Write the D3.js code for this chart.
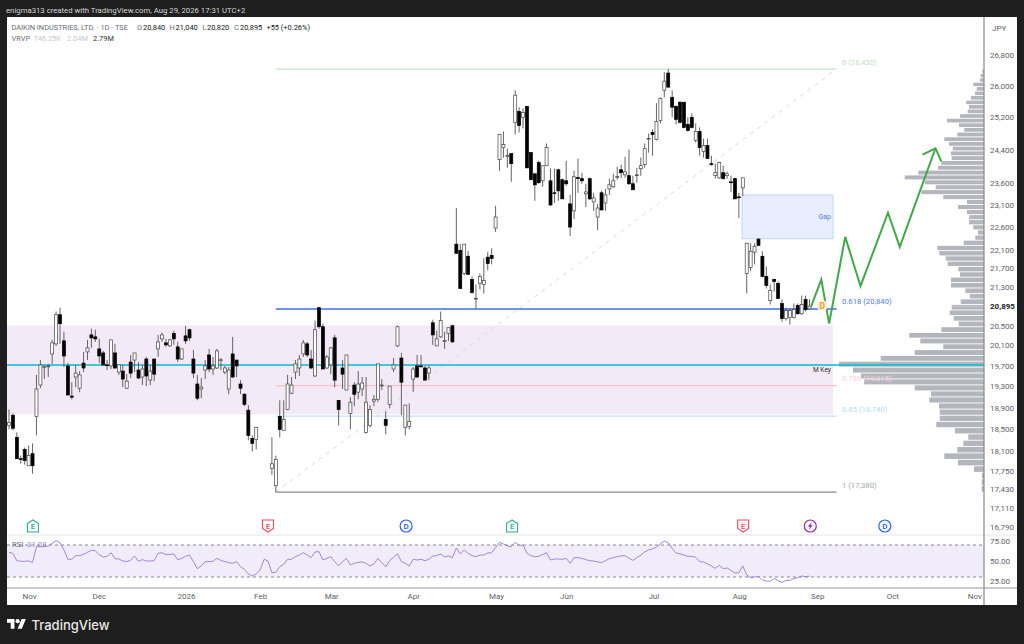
<!DOCTYPE html>
<html>
<head>
<meta charset="utf-8">
<script src="https://d3js.org/d3.v7.min.js"></script>
<style>
  html, body { margin: 0; padding: 0; background: #1e1e1e; }
  svg { display: block; font-family: Roboto, sans-serif; }
</style>
</head>
<body>
<div id="chart"></div>
<script>
// daily bars [open, high, low, close], null = no bar drawn
const ohlc = [
  [18570,18865,18495,18625],[18755,18790,18475,18515],[18350,18440,17965,17965],[17965,18020,17875,17950],
  [18130,18165,17860,17930],[17840,18200,17840,18020],[18055,18240,17700,17840],[18735,19520,18385,19250],
  [19325,19810,19265,19715],[19675,19715,19440,19680],[19690,19735,19480,19695],[19930,20210,19735,20150],
  [20130,20785,20090,20720],[20720,20865,20130,20535],[20190,20375,19675,19890],[19695,19750,19135,19135],
  [19115,19380,19055,19095],[19480,19715,19285,19555],[19265,19595,19190,19520],[19750,19970,19575,19655],
  [19970,20210,19810,20050],[20310,20435,20050,20250],[20270,20415,20170,20230],[20030,20230,19750,19890],
  [19950,19990,19695,19715],[19715,19810,19615,19710],[19695,20210,19635,20210],[19950,20130,19635,19655],
  [19575,19715,19520,19715],[19595,19715,19285,19440],[19265,19535,19250,19400],[19770,19910,19460,19555],
  [19810,19950,19575,19950],[19615,19770,19440,19460],[19480,19715,19325,19635],[19830,19870,19305,19500],
  [19420,19715,19325,19595],[19830,19830,19400,19535],[20030,20310,19870,20170],[20230,20355,20170,20310],
  [20150,20230,20070,20110],[20090,20230,20070,20210],[20335,20395,20110,20230],[20070,20170,19770,19830],
  [19830,20030,19810,20030],[20290,20495,20130,20190],[20415,20435,20190,20250],[19830,20010,19460,19555],
  [19345,19520,19035,19075],[19250,19460,19075,19285],[19615,19810,19440,19695],[19910,20030,19575,19635],
  [19635,19870,19520,19695],[19655,20030,19635,19990],[19810,19850,19615,19815],[19575,19695,19535,19655],
  [19250,19675,19150,19615],[19930,20270,19460,19480],[19810,19810,19480,19695],[19345,19420,19150,19265],
  [19150,19170,18925,18960],[18850,18945,18295,18385],[18330,18385,18095,18240],[18310,18530,18130,18530],
  null,null,null,
  [17790,18350,17680,17875],[17490,18020,17380,17950],[18735,19035,18350,18495],[18475,19035,18475,18680],
  [18865,19520,18850,19345],[19170,19480,19150,19325],[19575,19810,19440,19735],[19655,19910,19500,19830],
  [19930,20210,19870,20150],[20130,20170,19870,19910],[19830,20010,19635,19655],[19500,20600,19480,20415],
  [20865,20865,20435,20475],[20475,20535,19635,19635],[19655,19910,19635,19870],[19715,20070,19535,20050],
  [20250,20310,19285,19420],[19035,19035,18570,18865],[19655,19810,19250,19535],[19230,19910,19230,19910],
  [18790,19095,18495,19000],[19325,19380,18925,19150],[19190,19595,19055,19345],[19250,19480,19115,19365],
  [18440,19480,18420,19000],[18570,18945,18530,18865],[19020,19135,18925,19055],[19055,19735,19000,19735],
  [19320,19440,19230,19325],[18680,18830,18405,18570],[18960,19305,18885,19305],[19635,19850,19575,19715],
  [20090,20495,20070,20475],[19850,19950,18755,19380],[18530,18945,18385,18945],[18550,18980,18495,18640],
  [19440,19675,19190,19635],[19695,19910,19460,19480],[19695,19910,19655,19690],[19655,19695,19420,19420],
  [19555,19695,19420,19655],[20555,20620,20110,20310],[20090,20395,20090,20230],[20270,20785,20250,20600],
  [20190,20375,20030,20195],[20335,20455,20190,20455],[20495,20515,20150,20170],
  [22220,23030,22020,22020],[22085,22220,21265,21265],[21585,22220,21545,22220],[21955,22065,21565,21565],
  [21455,21520,21160,21180],[21055,21350,20845,21060],[21370,21585,21245,21520],[21350,21910,21160,21435],
  [21935,22045,21650,21800],[21975,22130,21780,21910],[22577,23080,22490,22825],[24160,24770,23895,24770],
  [24450,24845,24208,24525],[24255,24425,23965,24260],[24305,24305,23635,24065],[25070,25880,24770,25755],
  [25345,25450,24820,24995],[25195,25420,24920,25320],[25470,25470,23965,23965],[24330,24330,23685,23685],
  [23825,23825,23195,23565],[24090,24135,23590,23615],[23660,24015,23520,24015],[24015,24550,24015,24450],
  [23660,23945,23080,23100],[23380,23945,23145,23375],[23920,23945,23195,23425],[23685,23710,23240,23240],
  [23660,24135,23540,23590],[23125,23330,22400,22600],[22965,23895,22780,23755],[23735,24185,23380,23730],
  [23710,23850,23590,23660],[23355,23590,23055,23400],[23710,23730,23215,23240],[23170,23380,22965,23260],
  [22825,23125,22530,23030],[23380,23425,22985,22985],[23145,23470,22965,23330],[23470,23710,23330,23565],
  [23520,23825,23495,23660],[23755,23990,23685,23760],[23920,24040,23730,23850],[23800,24230,23730,23870],
  [23780,24400,23565,23590],[23590,23780,23450,23450],[23780,23965,23615,23800],[23945,24210,23780,24015],
  [24040,24550,23965,24425],[24670,24795,24330,24675],[24820,24895,24255,24770],[24650,25550,24625,25095],
  [25120,25700,25045,25675],[25880,26350,25700,26115],[26325,26430,25960,25960],[25700,25880,25195,25450],
  [25470,25500,25020,25145],[25575,25600,25045,25070],[25575,25575,24920,24945],[25020,25195,24845,24870],
  [25195,25295,24920,24945],[24625,25045,24575,24845],[24845,24945,24255,24450],[24355,24670,24210,24500],
  [24500,24670,24185,24185],[24065,24255,24015,24060],[23780,24065,23710,23850],[23730,24110,23710,24090],
  [23850,24015,23685,23710],[23780,23875,23710,23825],[23635,23780,23400,23615],[23710,23730,23240,23240],
  [23285,23380,22805,23280],[23495,23730,23305,23730],[21585,22240,21160,22240],[21715,22240,21630,22065],
  [22045,22240,21780,22175],[22330,22355,22175,22195],[21955,22065,21500,21520],[21520,21735,21265,21330],
  [21010,21350,20930,21225],[21455,21475,21200,21415],[21370,21415,21055,21055],[20950,21035,20575,20640],
  [20640,20865,20600,20805],[20660,20845,20515,20805],[20660,20950,20640,20825],[20910,20950,20720,20740],
  [20740,21115,20720,20930],[21035,21115,20785,20825],[20840,21040,20820,20895]
];

const rsiValues = [
  60.8,59.6,50.4,49.6,49.6,50,48.3,67.9,67.9,67.9,68.8,72.1,75.4,72.9,63.8,52.1,52.1,56.7,56.7,58.3,
  60.8,63.3,62.9,57.9,55,55.8,60.4,52.9,52.5,50,49.2,50.8,56.3,49.6,51.7,50,50,50.4,59.6,60.4,
  57.9,58.3,58.8,51.7,53.3,55.8,57.5,49.2,40.4,43.8,49.2,49.2,49.6,53.3,50.8,49.2,47.9,47.1,49.2,42.9,
  39.6,33.8,31.3,33.8,38.8,52.1,50,35.4,35.8,42.9,45.8,52.1,52.1,55.4,57.5,60.4,57.5,54.2,61.3,61.7,
  51.3,53.3,55.4,49.2,43.8,49.2,53.3,45,47.1,48.3,48.8,47.1,43.8,46.3,53.3,47.9,42.9,50.4,54.6,58.8,
  49.2,47.1,43.8,52.1,51.3,52.1,50.4,52.1,56.3,56.7,58.8,55,56.3,54.2,66.3,58.8,63.8,59.6,56.7,55.4,
  57.5,57.5,60,60.4,66.7,73.3,71.3,68.8,67.9,73.3,69.6,70,59.6,56.7,55.4,55.8,58.3,60.4,51.3,52.5,
  52.5,52.1,53.3,47.1,54.2,54.2,53.3,51.7,50.4,50,48.8,47.9,50.4,52.9,54.2,55.4,56.3,56.7,53.3,50.8,
  54.2,57.1,61.3,63.8,65,67.5,71.3,75,72.9,65.8,60,58.8,57.5,55.8,55.8,54.6,49.2,48.8,46.3,43.8,
  40.8,44.6,40.4,41.3,38.3,35,35.4,43.8,32.5,29.2,30,30.8,26.3,25,24.6,28.3,25.4,23.3,25.8,25.8,
  27.9,29.2,31.3,30.4,31.08
];

// volume profile rows from the top row down
const vpVolumes = [
  1.7,3.3,4,10.7,7.3,9,13,17.7,15,16.3,24,37,25,19.7,26.7,39.7,35,31.3,33,32.3,
  42.7,46,65.7,79.3,59,48.3,62.7,40.7,17,26,17,14.7,15,10.7,6,8.7,20.3,46.7,44.7,38.3,
  36.3,25.7,24,33,33,18.7,14,23.3,32.3,34.3,30.3,25.3,42.7,74.7,63.7,40.7,69.3,103.3,145,131,
  123,120,69.3,53,54.7,45,44.3,44.3,47.7,29,15.7,20.7,26.7,39.7,26,10,2,2.3,2.3
];

const priceTicks = [26800,26000,25200,24400,23600,23100,22600,22100,21700,21300,20895,20500,20100,19700,19300,18900,18500,18100,17750,17430,17110,16790];
const monthBars = [6.1,23.9,46.1,65,83.1,104,125.1,143,165.2,187.1,207,226.1,247];
const monthLabels = ["Nov","Dec","2026","Feb","Mar","Apr","May","Jun","Jul","Aug","Sep","Oct","Nov"];
const rsiTicks = [25,50,75];
const rsiBands = [30,70];

const fibLevels = [0,0.618,0.786,0.85,1];
const fibPrices = [26430,20840,19315,18740,17380];
const fibLabels = ["0 (26,430)","0.618 (20,840)","0.786 (19,315)","0.85 (18,740)","1 (17,380)"];
const fibColors = ["#c6e6c9","#3d6fe8","#f6c3cb","#bfe0f8","#8a8a8a"];
const fibTextColors = ["#bfe0c1","#4f7df0","#fbd3d9","#b7dcf7","#a8a8a8"];

const eventBars = [7.1,67,102.2,129.2,188.1,205.2,224.2];
const eventTypes = ["E+","E-","D","E+","E-","S","D"];

const forecastBars = [205.4,208,210,214.1,218,225,228,237.1];
const forecastPrices = [20887,21455,20540,22382,21314,22925,22160,24435];
const arrowBars = [233.8,237.1,238.6];
const arrowPrices = [24280,24435,24120];

const zonePrices = [20500,18773];
const gapPrices = [23330,22340];
const gapBars = [187.8,211];
const keyPrice = 19715;
const fibStartBar = 69;
const fibEndBar = 211.9;

const width = 1024, height = 644;
const panel = { left: 7, right: 1017, top: 17, bottom: 605, axisX: 984, rsiTop: 535, timeY: 588 };

const svg = d3.select("#chart").append("svg").attr("width", width).attr("height", height);

const x = d3.scaleLinear().domain([1, 205]).range([9, 809.5]);
const y = d3.scaleLog().domain([16790, 26800]).range([527, 55]);
const rsiY = d3.scaleLinear().domain([25, 75]).range([581, 541]);
const vpX = d3.scaleLinear().domain([0, d3.max(vpVolumes)]).range([0, 145]);

// panels
svg.append("rect").attr("x", panel.left).attr("y", panel.top)
  .attr("width", panel.right - panel.left).attr("height", panel.bottom - panel.top).attr("fill", "#fff");

svg.append("text").attr("x", 6).attr("y", 12.5).attr("fill", "#d6d6d6").attr("font-size", 7.75)
  .text("enigma313 created with TradingView.com, Aug 29, 2026 17:31 UTC+2");

// zone under the candles
svg.append("rect").attr("x", panel.left).attr("y", y(zonePrices[0]))
  .attr("width", 833 - panel.left).attr("height", y(zonePrices[1]) - y(zonePrices[0])).attr("fill", "#f4e9f7");

// volume profile
const vpRow = (fibPrices[0] - fibPrices[4]) / vpVolumes.length;
svg.append("g").selectAll("rect").data(vpVolumes).join("rect")
  .attr("x", d => panel.axisX - vpX(d))
  .attr("width", d => vpX(d))
  .attr("y", (d, i) => y(fibPrices[0] - vpRow * i) + 0.4)
  .attr("height", (d, i) => y(fibPrices[0] - vpRow * (i + 1)) - y(fibPrices[0] - vpRow * i) - 0.9)
  .attr("fill", "#b4b6be");

// gap box
svg.append("rect").attr("x", x(gapBars[0])).attr("y", y(gapPrices[0]))
  .attr("width", x(gapBars[1]) - x(gapBars[0])).attr("height", y(gapPrices[1]) - y(gapPrices[0]))
  .attr("fill", "#e8eefd").attr("stroke", "#c3d4fb");
svg.append("text").attr("x", 831).attr("y", 218.5).attr("text-anchor", "end").attr("fill", "#4f7df0")
  .attr("font-size", 7).text("Gap");

// fib drawing
svg.append("line").attr("x1", x(fibStartBar)).attr("y1", y(fibPrices[4])).attr("x2", x(fibEndBar)).attr("y2", y(fibPrices[0]))
  .attr("stroke", "#d9d9d9").attr("stroke-dasharray", "4,5");
svg.append("g").selectAll("line").data(fibLevels).join("line")
  .attr("x1", x(fibStartBar)).attr("x2", x(fibEndBar))
  .attr("y1", (d, i) => y(fibPrices[i])).attr("y2", (d, i) => y(fibPrices[i]))
  .attr("stroke", (d, i) => fibColors[i])
  .attr("stroke-width", (d, i) => i == 1 ? 1.5 : 1.2);
svg.append("g").selectAll("text").data(fibLabels).join("text")
  .attr("x", 842).attr("y", (d, i) => y(fibPrices[i]) - 4.5)
  .attr("fill", (d, i) => fibTextColors[i]).attr("font-size", 7.7).text(d => d);

// key level
svg.append("line").attr("x1", panel.left).attr("x2", panel.axisX).attr("y1", y(keyPrice)).attr("y2", y(keyPrice))
  .attr("stroke", "#00bcd4").attr("stroke-width", 1.5);
svg.append("text").attr("x", 831).attr("y", 371.5).attr("text-anchor", "end").attr("fill", "#333")
  .attr("font-size", 6.6).text("M Key");

// current price dotted line
svg.append("line").attr("x1", x(205)).attr("x2", panel.axisX).attr("y1", y(20895)).attr("y2", y(20895))
  .attr("stroke", "#fff").attr("stroke-opacity", 0.6).attr("stroke-dasharray", "1,1");

// candles
const bars = ohlc.map((d, i) => d && { i: i + 1, o: d[0], h: d[1], l: d[2], c: d[3] }).filter(d => d);
const candle = svg.append("g");
candle.selectAll("line").data(bars).join("line")
  .attr("x1", d => x(d.i)).attr("x2", d => x(d.i))
  .attr("y1", d => y(d.h)).attr("y2", d => y(d.l))
  .attr("stroke", "#555").attr("stroke-width", 0.9);
candle.selectAll("rect").data(bars).join("rect")
  .attr("x", d => x(d.i) - 1.5).attr("width", 3)
  .attr("y", d => y(Math.max(d.o, d.c)))
  .attr("height", d => Math.max(0.8, Math.abs(y(d.o) - y(d.c))))
  .attr("fill", d => d.c > d.o ? "#fff" : "#000")
  .attr("stroke", d => d.c > d.o ? "#444" : "#000").attr("stroke-width", 0.7);

// forecast path
const fLine = d3.line().x(d => x(d[0])).y(d => y(d[1]));
svg.append("path").datum(forecastBars.map((b, i) => [b, forecastPrices[i]])).attr("d", fLine)
  .attr("fill", "none").attr("stroke", "#43a84a").attr("stroke-width", 2);
svg.append("path").datum(arrowBars.map((b, i) => [b, arrowPrices[i]])).attr("d", fLine)
  .attr("fill", "none").attr("stroke", "#43a84a").attr("stroke-width", 2);

// dividend mark on the chart
svg.append("circle").attr("cx", 822.3).attr("cy", 305.7).attr("r", 5.5).attr("fill", "#fdf0dd");
svg.append("text").attr("x", 822.3).attr("y", 308.7).attr("text-anchor", "middle").attr("fill", "#ff9800")
  .attr("font-size", 8.5).attr("font-weight", 700).text("D");

// event icons
const icon = svg.append("g").selectAll("g").data(eventBars).join("g")
  .attr("transform", d => `translate(${x(d)},526)`);
icon.each(function (d, i) {
  const g = d3.select(this), t = eventTypes[i];
  if (t == "E+" || t == "E-") {
    const c = t == "E+" ? "#2bb093" : "#f2495e";
    const pts = t == "E+" ? "-5.5,-2.5 0,-6 5.5,-2.5 5.5,6 -5.5,6" : "-5.5,-6 5.5,-6 5.5,2.5 0,6 -5.5,2.5";
    g.append("polygon").attr("points", pts).attr("fill", "#fff").attr("stroke", c).attr("stroke-width", 1.1);
    g.append("text").attr("y", 3).attr("text-anchor", "middle").attr("fill", c).attr("font-size", 7.5).attr("font-weight", 600).text("E");
  } else {
    const c = t == "D" ? "#2962ff" : "#9c27b0";
    g.append("circle").attr("r", 6).attr("fill", "#fff").attr("stroke", c).attr("stroke-width", 1.2);
    if (t == "D") g.append("text").attr("y", 3).attr("text-anchor", "middle").attr("fill", c).attr("font-size", 8).attr("font-weight", 600).text("D");
    else g.append("path").attr("d", "M1.5,-4 L-2.5,0.8 L-0.3,0.8 L-1.5,4 L2.5,-0.8 L0.3,-0.8 Z").attr("fill", c);
  }
});

// rsi pane
svg.append("rect").attr("x", panel.left).attr("width", panel.axisX - panel.left)
  .attr("y", rsiY(rsiBands[1])).attr("height", rsiY(rsiBands[0]) - rsiY(rsiBands[1])).attr("fill", "#f0ecf9");
svg.append("g").selectAll("line").data(rsiBands).join("line")
  .attr("x1", panel.left).attr("x2", panel.axisX).attr("y1", d => rsiY(d)).attr("y2", d => rsiY(d))
  .attr("stroke", "#787b86").attr("stroke-dasharray", "3,3").attr("stroke-width", 0.9);
svg.append("path").datum(rsiValues)
  .attr("d", d3.line().x((d, i) => x(i + 1)).y(d => rsiY(d)))
  .attr("fill", "none").attr("stroke", "#a387d8").attr("stroke-width", 1);

// panel rules
svg.append("line").attr("x1", panel.left).attr("x2", panel.right).attr("y1", panel.rsiTop).attr("y2", panel.rsiTop).attr("stroke", "#e6e6ec");
svg.append("line").attr("x1", panel.left).attr("x2", panel.right).attr("y1", panel.timeY).attr("y2", panel.timeY).attr("stroke", "#999").attr("stroke-width", 1.2);
svg.append("line").attr("x1", panel.axisX).attr("x2", panel.axisX).attr("y1", panel.top).attr("y2", panel.bottom).attr("stroke", "#888").attr("stroke-width", 1.2);

// axes
function styleAxis(g, size) {
  g.select(".domain").remove();
  g.selectAll(".tick line").remove();
  g.selectAll("text").attr("fill", "#5f6168").attr("font-size", size).attr("font-family", "Roboto, sans-serif");
}
svg.append("g").attr("transform", `translate(${panel.axisX},0)`)
  .call(d3.axisRight(y).tickValues(priceTicks).tickFormat(d3.format(",")).tickSize(0).tickPadding(6))
  .call(styleAxis, 8)
  .selectAll("text").filter(d => d == 20895).attr("font-weight", 700).attr("fill", "#222");
svg.append("g").attr("transform", `translate(${panel.axisX},0)`)
  .call(d3.axisRight(rsiY).tickValues(rsiTicks).tickFormat(d3.format(".2f")).tickSize(0).tickPadding(6))
  .call(styleAxis, 8);
svg.append("g").attr("transform", `translate(0,${panel.timeY + 2})`)
  .call(d3.axisBottom(x).tickValues(monthBars).tickFormat((d, i) => monthLabels[i]).tickSize(0).tickPadding(3))
  .call(styleAxis, 8);

svg.append("text").attr("x", 992).attr("y", 31).attr("fill", "#5f6168").attr("font-size", 8).text("JPY");

// legend
function legend(px, py, str, color, size) {
  svg.append("text").attr("x", px).attr("y", py).attr("fill", color).attr("font-size", size || 7.4).text(str);
}
legend(11.5, 30, "DAIKIN INDUSTRIES, LTD. · 1D · TSE", "#6a6d78");
legend(137, 30, "O", "#6a6d78");
legend(143, 30, "20,840", "#131722");
legend(169.5, 30, "H", "#6a6d78");
legend(175.5, 30, "21,040", "#131722");
legend(202.5, 30, "L", "#6a6d78");
legend(207, 30, "20,820", "#131722");
legend(234, 30, "C", "#6a6d78");
legend(240, 30, "20,895", "#131722");
legend(266.5, 30, "+55 (+0.26%)", "#131722");
legend(11.5, 41, "VRVP", "#6a6d78");
legend(33.5, 41, "746.25K", "#c8c8cc");
legend(67, 41, "2.04M", "#c8c8cc");
legend(93, 41, "2.79M", "#333");
legend(12, 547, "RSI", "#6a6d78", 7.8);
legend(27, 547, "31.08", "#a387d8", 7.8);

// brand
const logo = svg.append("g").attr("transform", "translate(7,617) scale(0.53)").attr("fill", "#fff");
logo.append("path").attr("d", "M14 22H7V11H0V4h14v18zM28 22h-8l7.5-18h8L28 22z");
logo.append("circle").attr("cx", 20).attr("cy", 8).attr("r", 4);
svg.append("text").attr("x", 31.5).attr("y", 630).attr("fill", "#e8e8e8").attr("font-size", 13)
  .attr("font-family", "Inter, sans-serif").attr("font-weight", 500).text("TradingView");
</script>
</body>
</html>
